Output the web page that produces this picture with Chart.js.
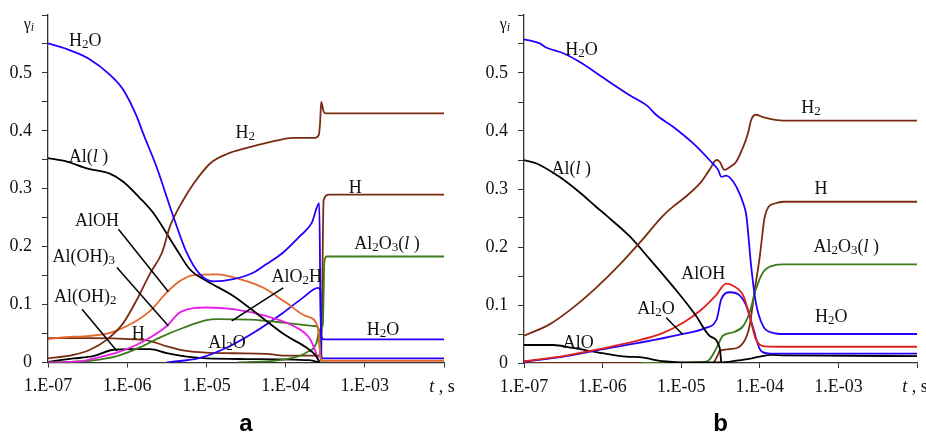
<!DOCTYPE html>
<html>
<head>
<meta charset="utf-8">
<script src="https://cdn.jsdelivr.net/npm/chart.js@4"></script>
<style>
html, body { margin:0; padding:0; background:#fff; }
#wrap { width:926px; height:432px; position:relative; }
canvas { position:absolute; top:0; }
#ca { left:0; }
#cb { left:463px; }
</style>
</head>
<body>
<div id="wrap">
<canvas id="ca" width="463" height="432"></canvas>
<canvas id="cb" width="463" height="432"></canvas>
</div>
<script>
// points are [log10(t, s), gamma_i]
// ---- panel a ----
const aH2O = [[-7,0.551],[-6.76,0.541],[-6.49,0.525],[-6.22,0.497],[-6.05,0.471],[-5.88,0.425],[-5.80,0.396],[-5.63,0.338],[-5.42,0.253],[-5.25,0.190],[-5.08,0.152],[-4.91,0.140],[-4.66,0.144],[-4.41,0.155],[-4.24,0.170],[-4.03,0.190],[-3.82,0.218],[-3.67,0.241],[-3.575,0.275],[-3.56,0.10],[-3.55,0.045],[-3.52,0.040],[-2,0.040]];
const aH2 = [[-7,0.007],[-6.68,0.013],[-6.47,0.022],[-6.26,0.039],[-6.05,0.068],[-5.88,0.108],[-5.71,0.154],[-5.56,0.190],[-5.46,0.235],[-5.29,0.281],[-5.16,0.309],[-4.95,0.344],[-4.74,0.360],[-4.5,0.370],[-4.24,0.379],[-3.90,0.388],[-3.63,0.388],[-3.58,0.393],[-3.565,0.413],[-3.55,0.450],[-3.52,0.433],[-3.49,0.430],[-2,0.430]];
const aAl = [[-7,0.353],[-6.76,0.347],[-6.51,0.335],[-6.22,0.326],[-6.05,0.312],[-5.84,0.284],[-5.67,0.258],[-5.38,0.196],[-5.21,0.161],[-5.0,0.141],[-4.66,0.115],[-4.32,0.080],[-3.99,0.046],[-3.74,0.026],[-3.62,0.012],[-3.57,0]];
const aAlOH = [[-7,0.040],[-6.85,0.043],[-6.47,0.046],[-6.22,0.051],[-5.92,0.069],[-5.71,0.089],[-5.50,0.121],[-5.33,0.141],[-5.16,0.151],[-4.87,0.152],[-4.58,0.144],[-4.28,0.129],[-3.99,0.103],[-3.74,0.080],[-3.59,0.060],[-3.56,0.010],[-3.54,0.003],[-2,0.003]];
const aAlOH3 = [[-7,0],[-6.6,0.002],[-6.39,0.008],[-6.13,0.017],[-5.92,0.028],[-5.71,0.043],[-5.50,0.063],[-5.33,0.087],[-5.0,0.095],[-4.66,0.092],[-4.24,0.080],[-3.90,0.063],[-3.69,0.040],[-3.57,0]];
const aAlO2H = [[-7,0],[-6.47,0.003],[-6.13,0.011],[-5.84,0.026],[-5.59,0.043],[-5.29,0.060],[-5.0,0.073],[-4.87,0.075],[-4.45,0.074],[-4.03,0.069],[-3.78,0.065],[-3.63,0.063],[-3.59,0.060],[-3.56,0.010],[-3.54,0]];
const aAl2O3 = [[-4.6,0],[-4.03,0.005],[-3.74,0.017],[-3.61,0.034],[-3.57,0.057],[-3.53,0.065],[-3.51,0.175],[-3.48,0.183],[-2,0.183]];
const aAl2O = [[-5.5,0],[-5.08,0.008],[-4.74,0.026],[-4.41,0.051],[-4.03,0.086],[-3.78,0.112],[-3.59,0.129],[-3.56,0.124],[-3.55,0.020],[-3.54,0.007],[-2,0.007]];
const aH = [[-7,0.042],[-6.5,0.042],[-5.92,0.040],[-5.71,0.037],[-5.50,0.028],[-5.25,0.020],[-5.0,0.017],[-4.66,0.016],[-4.24,0.015],[-4.03,0.012],[-3.6,0.012],[-3.55,0.013],[-3.52,0.280],[-3.45,0.290],[-2,0.290]];
const aAlOH2 = [[-7,0.001],[-6.68,0.007],[-6.43,0.011],[-6.17,0.022],[-5.96,0.023],[-5.71,0.023],[-5.50,0.016],[-5.25,0.010],[-5.0,0.007],[-4.5,0.006],[-3.7,0.004],[-3.57,0]];

// ---- panel b ----
const bH2O = [[-7,0.558],[-6.80,0.551],[-6.72,0.544],[-6.50,0.534],[-6.29,0.519],[-5.95,0.488],[-5.66,0.462],[-5.42,0.442],[-5.32,0.428],[-5.10,0.407],[-4.85,0.379],[-4.62,0.347],[-4.53,0.333],[-4.49,0.321],[-4.43,0.323],[-4.34,0.313],[-4.26,0.293],[-4.21,0.275],[-4.17,0.253],[-4.11,0.167],[-4.05,0.104],[-3.96,0.064],[-3.83,0.052],[-3.70,0.050],[-2,0.050]];
const bH2 = [[-7,0.047],[-6.67,0.067],[-6.38,0.095],[-6.08,0.130],[-5.78,0.170],[-5.53,0.207],[-5.23,0.254],[-5.10,0.270],[-4.94,0.287],[-4.76,0.310],[-4.64,0.333],[-4.55,0.350],[-4.51,0.347],[-4.45,0.333],[-4.38,0.338],[-4.30,0.347],[-4.21,0.373],[-4.15,0.396],[-4.11,0.419],[-4.05,0.428],[-3.96,0.424],[-3.70,0.418],[-2,0.418]];
const bAl = [[-7,0.350],[-6.84,0.344],[-6.55,0.321],[-6.29,0.294],[-6.08,0.269],[-5.95,0.254],[-5.66,0.219],[-5.40,0.179],[-5.02,0.118],[-4.81,0.081],[-4.64,0.047],[-4.51,0.026],[-4.49,0]];
const bAlOH = [[-7,0.003],[-6.50,0.012],[-6.04,0.024],[-5.57,0.038],[-5.23,0.052],[-4.97,0.070],[-4.76,0.090],[-4.55,0.118],[-4.43,0.137],[-4.34,0.133],[-4.21,0.116],[-4.13,0.081],[-4.05,0.041],[-3.96,0.029],[-3.75,0.028],[-2,0.028]];
const bAl2O = [[-7,0.002],[-6.50,0.011],[-5.99,0.024],[-5.53,0.035],[-5.02,0.049],[-4.68,0.061],[-4.55,0.075],[-4.49,0.110],[-4.38,0.122],[-4.26,0.117],[-4.17,0.098],[-4.08,0.058],[-4.0,0.024],[-3.92,0.017],[-3.8,0.016],[-2,0.016]];
const bAlO = [[-7,0.031],[-6.63,0.031],[-6.38,0.026],[-6.0,0.017],[-5.70,0.011],[-5.53,0.010],[-5.23,0.003],[-5.0,0.001],[-4.5,0.001],[-4.3,0.004],[-4.1,0.008],[-4.0,0.011],[-3.85,0.014],[-3.7,0.013],[-2,0.012]];
const bAl2O3 = [[-5.5,0],[-4.7,0.002],[-4.64,0.006],[-4.55,0.026],[-4.47,0.047],[-4.34,0.053],[-4.21,0.064],[-4.13,0.087],[-4.05,0.127],[-3.96,0.156],[-3.83,0.168],[-3.70,0.170],[-2,0.170]];
const bH = [[-7,0],[-4.6,0],[-4.53,0.015],[-4.51,0.021],[-4.38,0.024],[-4.21,0.035],[-4.13,0.064],[-4.07,0.121],[-4.0,0.184],[-3.94,0.250],[-3.89,0.269],[-3.81,0.275],[-3.70,0.278],[-2,0.278]];

// axis ticks
const xExp = [-7, -6, -5, -4, -3, -2];
const xTickLabels = ['1.E-07', '1.E-06', '1.E-05', '1.E-04', '1.E-03', ''];
const yTicks = [0, 0.05, 0.1, 0.15, 0.2, 0.25, 0.3, 0.35, 0.4, 0.45, 0.5, 0.55, 0.6];
const yTickLabels = ['0', '', '0.1', '', '0.2', '', '0.3', '', '0.4', '', '0.5', '', ''];

// curve names: [log t, gamma, text]  (_ sub, * italic, ~ italic sub)
const aLabels = [[-6.53,0.557,'H_2O'],[-6.49,0.357,'Al(*l )'],[-4.51,0.398,'H_2'],[-3.12,0.303,'H'],
  [-6.38,0.246,'AlOH'],[-6.55,0.184,'Al(OH)_3'],[-6.53,0.115,'Al(OH)_2'],[-5.86,0.051,'H'],
  [-4.74,0.035,'Al_2O'],[-3.86,0.149,'AlO_2H'],[-2.72,0.206,'Al_2O_3(*l )'],[-2.77,0.058,'H_2O']];
const aLeaders = [[-6.11,0.230,-5.48,0.122],[-6.13,0.164,-5.48,0.063],[-6.57,0.092,-6.13,0.020],[-4.03,0.129,-4.68,0.072]];
const bLabels = [[-6.27,0.541,'H_2O'],[-3.35,0.441,'H_2'],[-6.40,0.336,'Al(*l )'],[-3.22,0.302,'H'],
  [-2.90,0.202,'Al_2O_3(*l )'],[-4.72,0.155,'AlOH'],[-5.32,0.095,'Al_2O'],[-3.09,0.081,'H_2O'],[-6.31,0.036,'AlO']];
const bLeaders = [[-5.19,0.078,-4.98,0.049]];

const BLUE = '#2200ff', BROWN = '#7a2c10', ORANGE = '#e2662a', MAGENTA = '#e81ee8',
      GREEN = '#3c7a1c', RED = '#e0201a', BLACK = '#000000';

function ser(pts, color) {
  return {
    data: pts.map(p => ({ x: Math.pow(10, p[0]), y: p[1] })),
    borderColor: color, borderWidth: 1.8, pointRadius: 0, fill: false,
    cubicInterpolationMode: 'monotone'
  };
}

function rich(ctx, str, cx, cy, size) {
  const segs = [];
  for (let i = 0; i < str.length; i++) {
    let c = str[i], kind = '';
    if ((c === '_' || c === '*' || c === '~') && i + 1 < str.length) { kind = c; c = str[++i]; }
    segs.push({ c, kind });
  }
  const small = k => k === '_' || k === '~';
  const fontOf = k => (k === '*' || k === '~' ? 'italic ' : '') +
    (small(k) ? Math.round(size * 0.72) : size) + 'px "Liberation Serif"';
  let w = 0;
  segs.forEach(s => { ctx.font = fontOf(s.kind); s.w = ctx.measureText(s.c).width; w += s.w; });
  let x = cx - w / 2;
  const base = cy + size * 0.33;
  ctx.textAlign = 'left';
  ctx.textBaseline = 'alphabetic';
  ctx.fillStyle = '#111';
  segs.forEach(s => {
    ctx.font = fontOf(s.kind);
    ctx.fillText(s.c, x, base + (small(s.kind) ? size * 0.12 : 0));
    x += s.w;
  });
}

function notes(labels, leaders, caption) {
  return {
    id: 'notes',
    afterDatasetsDraw(chart) {
      const ctx = chart.ctx, xs = chart.scales.x, ys = chart.scales.y, a = chart.chartArea;
      const X = lt => xs.getPixelForValue(Math.pow(10, lt));
      const Y = v => ys.getPixelForValue(v);
      ctx.save();
      ctx.strokeStyle = '#000';
      ctx.lineWidth = 1.5;
      leaders.forEach(l => {
        ctx.beginPath(); ctx.moveTo(X(l[0]), Y(l[1])); ctx.lineTo(X(l[2]), Y(l[3])); ctx.stroke();
      });
      labels.forEach(l => rich(ctx, l[2], X(l[0]), Y(l[1]), 18));
      rich(ctx, 'γ~i', a.left - 19, a.top + 9, 16);
      rich(ctx, '*t , s', a.right - 2, 386, 18);
      ctx.font = 'bold 24px "Liberation Sans"';
      ctx.textAlign = 'center';
      ctx.textBaseline = 'middle';
      ctx.fillStyle = '#000';
      ctx.fillText(caption, (a.left + a.right) / 2, 424);
      ctx.restore();
    }
  };
}

function opts(leftW, padR, padB) {
  const tickFont = { family: 'Liberation Serif', size: 18 };
  return {
    responsive: false,
    animation: false,
    layout: { padding: { left: 0, right: padR, top: 15, bottom: padB } },
    plugins: { legend: { display: false }, tooltip: { enabled: false } },
    scales: {
      x: {
        type: 'logarithmic', min: 1e-7, max: 1e-2,
        afterBuildTicks: s => { s.ticks = xExp.map(e => ({ value: Math.pow(10, e) })); },
        afterFit: s => { s.height = 40; s.paddingLeft = 0; s.paddingRight = 0; },
        ticks: { autoSkip: false, maxRotation: 0, padding: 8, color: '#111', font: tickFont,
          callback: (v, i) => xTickLabels[i] },
        grid: { drawOnChartArea: false, drawTicks: true, tickLength: 5, color: '#333' },
        border: { display: true, color: '#333', width: 1.3 }
      },
      y: {
        type: 'linear', min: 0, max: 0.6,
        afterBuildTicks: s => { s.ticks = yTicks.map(v => ({ value: v })); },
        afterFit: s => { s.width = leftW; s.paddingTop = 0; s.paddingBottom = 0; },
        ticks: { autoSkip: false, padding: 10, color: '#111', font: tickFont,
          callback: (v, i) => yTickLabels[i] },
        grid: { drawOnChartArea: false, drawTicks: true, tickLength: 6, color: '#333' },
        border: { display: true, color: '#333', width: 1.3 }
      }
    }
  };
}

new Chart(document.getElementById('ca'), {
  type: 'line',
  data: { datasets: [
    ser(aH2O, BLUE), ser(aH2, BROWN), ser(aAl, BLACK), ser(aAlOH, ORANGE), ser(aAlOH3, MAGENTA),
    ser(aAlO2H, GREEN), ser(aAl2O3, GREEN), ser(aAl2O, BLUE), ser(aH, BROWN), ser(aAlOH2, BLACK)
  ] },
  options: opts(48, 19, 29.5),
  plugins: [notes(aLabels, aLeaders, 'a')]
});

new Chart(document.getElementById('cb'), {
  type: 'line',
  data: { datasets: [
    ser(bH2O, BLUE), ser(bH2, BROWN), ser(bAl, BLACK), ser(bAlOH, RED), ser(bAl2O, BLUE),
    ser(bAlO, BLACK), ser(bAl2O3, GREEN), ser(bH, BROWN)
  ] },
  options: opts(61, 9, 29),
  plugins: [notes(bLabels, bLeaders, 'b')]
});
</script>
</body>
</html>
